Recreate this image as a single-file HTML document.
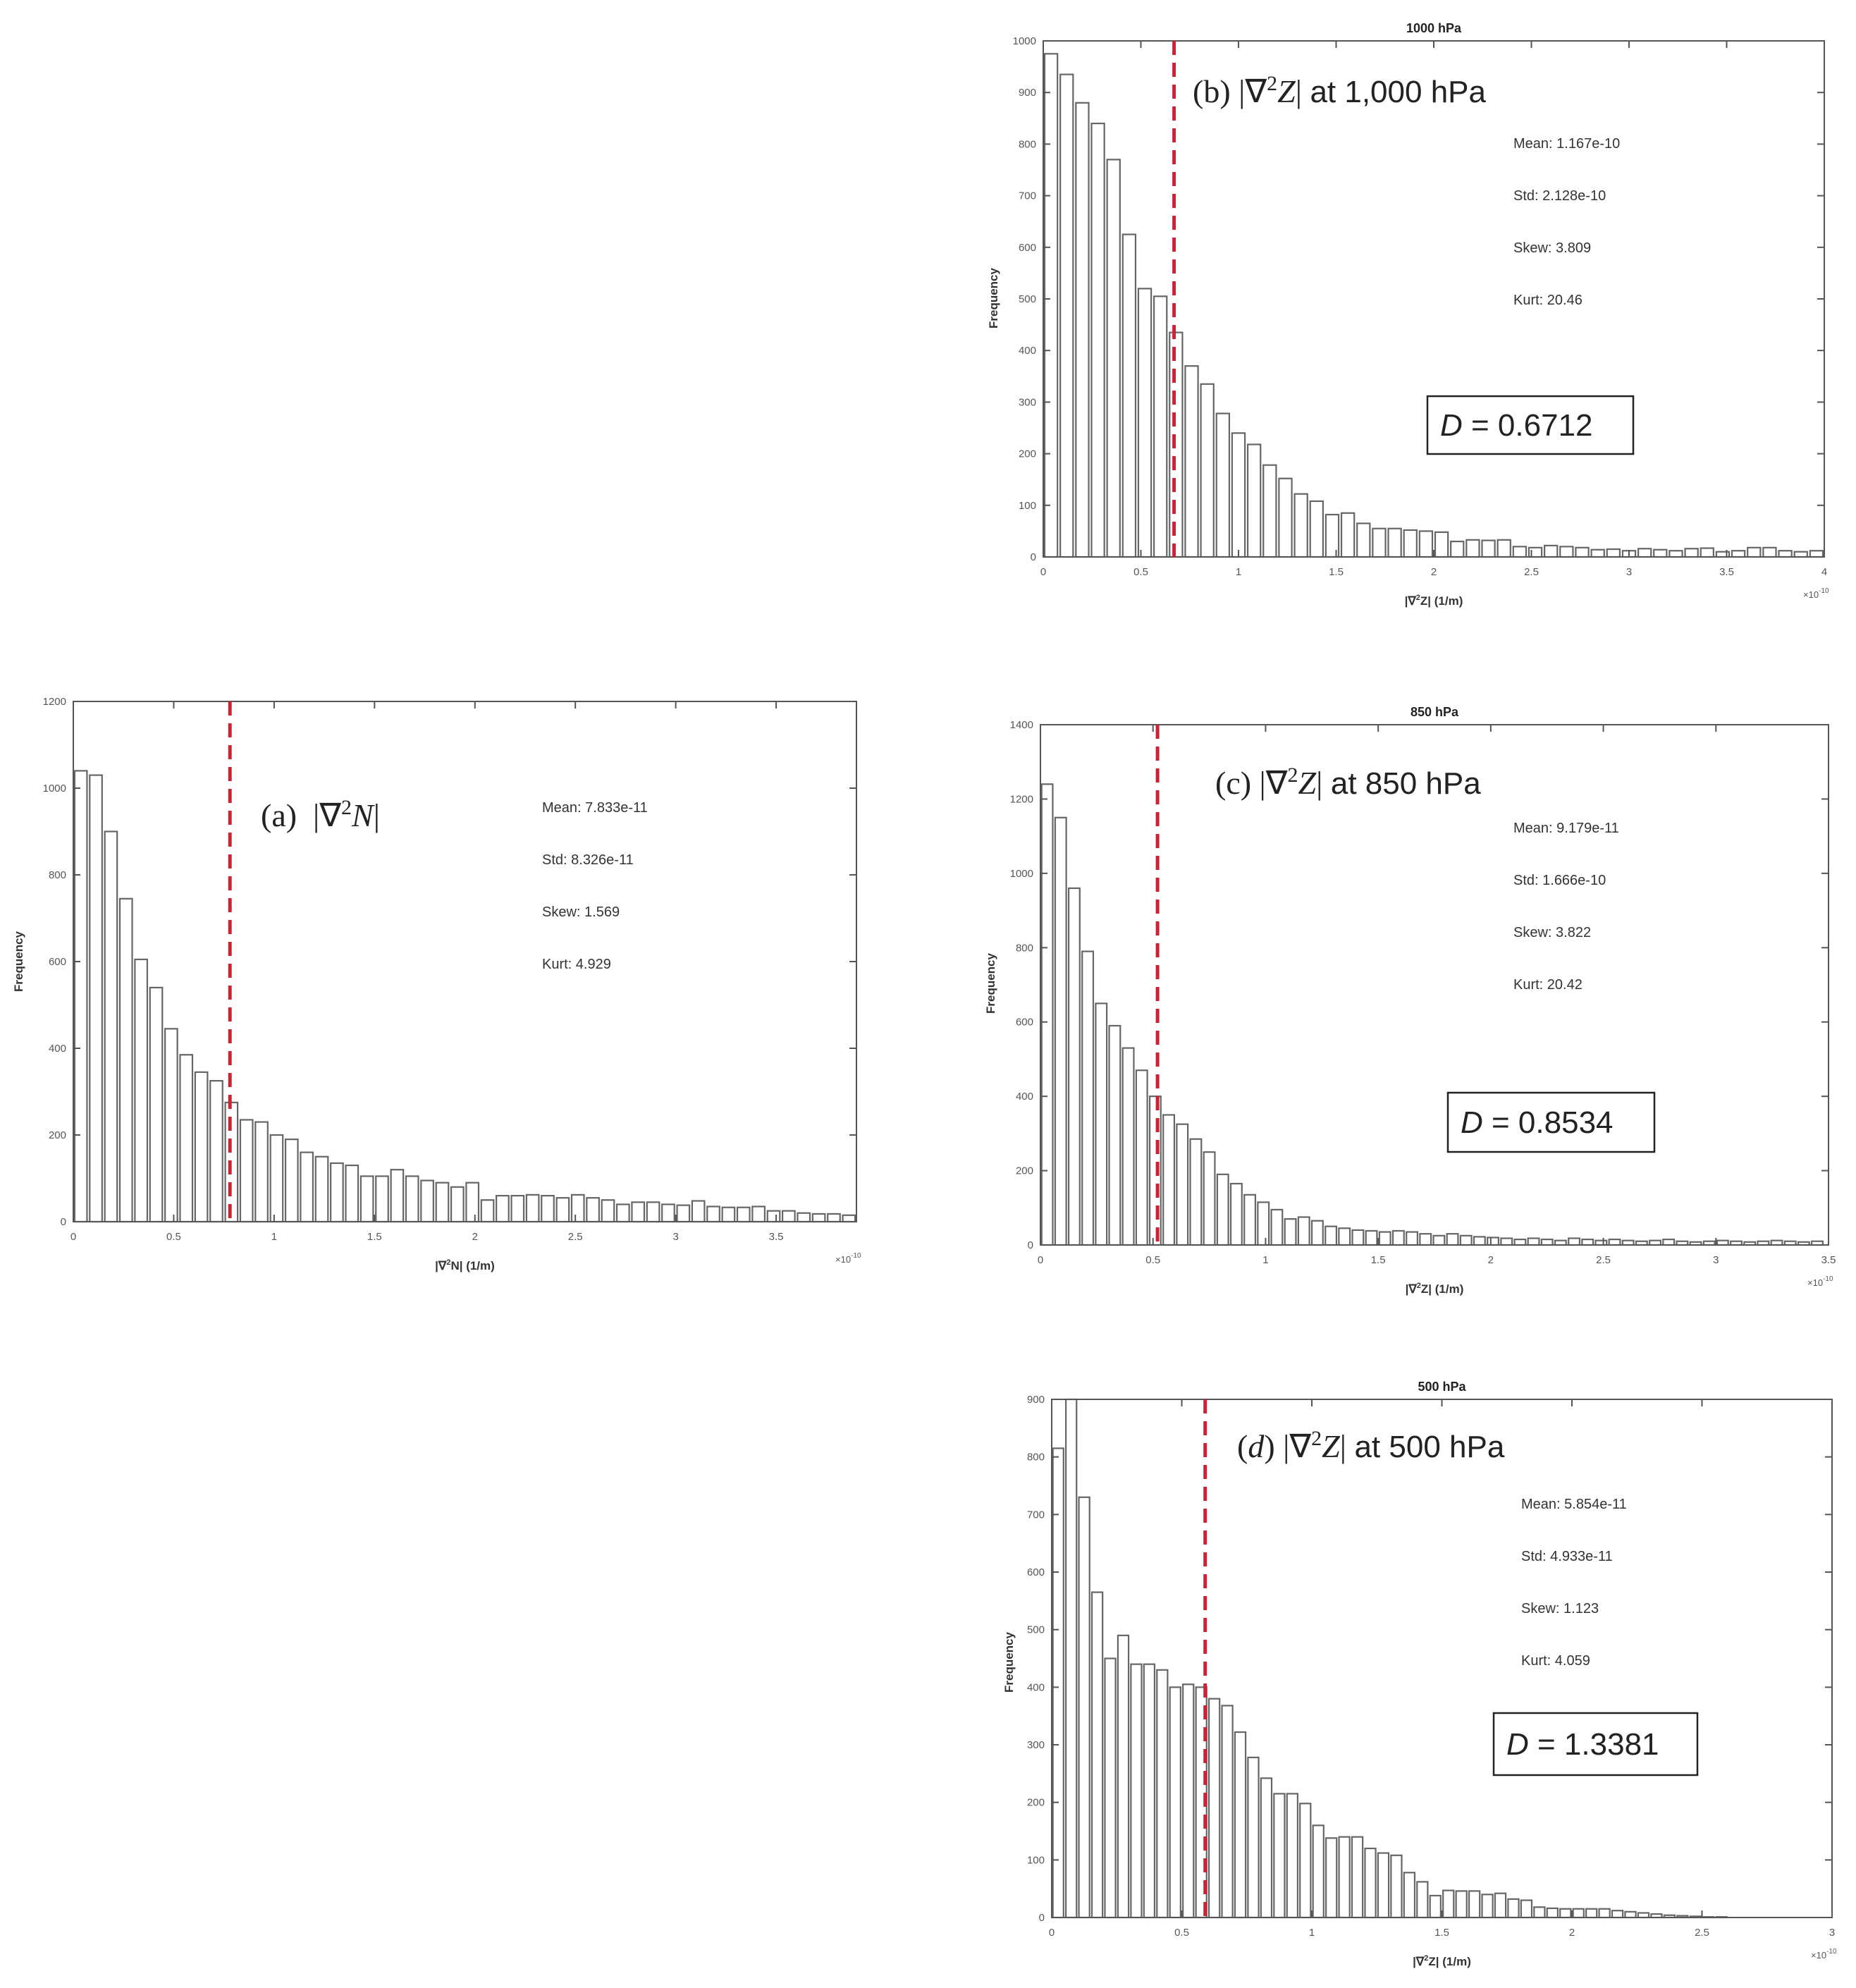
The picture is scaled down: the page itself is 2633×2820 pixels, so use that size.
<!DOCTYPE html>
<html><head><meta charset="utf-8"><style>
html,body{margin:0;padding:0;background:#fff}
svg{display:block}
</style></head><body>
<svg id="fig" width="2633" height="2820" viewBox="0 0 2633 2820" xmlns="http://www.w3.org/2000/svg" font-family="Liberation Sans, sans-serif">
<rect width="2633" height="2820" fill="#fff"/>
</svg>
<script>
// Panel (a)
const aValues=[1040,1030,900,745,605,540,445,385,345,325,275,235,230,200,190,160,150,135,130,105,105,120,105,95,90,80,90,50,60,60,62,60,55,62,55,50,40,45,45,40,38,48,35,33,33,35,25,25,20,18,18,15];
const aTicksX=[0,0.5,1,1.5,2,2.5,3,3.5];
const aTicksY=[0,200,400,600,800,1000,1200];
const aStats=["Mean: 7.833e-11","Std: 8.326e-11","Skew: 1.569","Kurt: 4.929"];
// Panel (b)
const bValues=[975,935,880,840,770,625,520,505,435,370,335,278,240,218,178,152,122,108,82,85,65,55,55,52,50,48,30,33,32,33,20,18,22,20,18,14,15,12,16,14,12,16,17,10,12,18,18,12,10,12,15,20,18,15];
const bTicksX=[0,0.5,1,1.5,2,2.5,3,3.5,4];
const bTicksY=[0,100,200,300,400,500,600,700,800,900,1000];
const bStats=["Mean: 1.167e-10","Std: 2.128e-10","Skew: 3.809","Kurt: 20.46"];
// Panel (c)
const cValues=[1240,1150,960,790,650,590,530,470,400,350,325,285,250,190,165,135,115,95,70,75,65,50,45,40,38,35,38,35,30,25,30,25,22,20,18,15,18,15,12,18,15,12,15,12,10,12,15,10,8,10,12,10,8,10,12,10,8,10];
const cTicksX=[0,0.5,1,1.5,2,2.5,3,3.5];
const cTicksY=[0,200,400,600,800,1000,1200,1400];
const cStats=["Mean: 9.179e-11","Std: 1.666e-10","Skew: 3.822","Kurt: 20.42"];
// Panel (d)
const dValues=[815,1000,730,565,450,490,440,440,430,400,405,400,380,368,322,278,242,215,215,198,160,138,140,140,120,112,108,78,62,38,47,46,46,40,42,32,30,18,16,15,15,15,15,12,10,8,6,4,3,2,1,1];
const dTicksX=[0,0.5,1,1.5,2,2.5,3];
const dTicksY=[0,100,200,300,400,500,600,700,800,900];
const dStats=["Mean: 5.854e-11","Std: 4.933e-11","Skew: 1.123","Kurt: 4.059"];

const NS="http://www.w3.org/2000/svg";
const svg=document.getElementById('fig');
function el(tag,attrs,parent,text){const e=document.createElementNS(NS,tag);for(const k in attrs)e.setAttribute(k,attrs[k]);if(text!==undefined)e.textContent=text;(parent||svg).appendChild(e);return e;}

function panel(p){
  const g=el('g',{});
  
  
  const sx=v=>p.L+(v-0)/(p.xmax)*(p.R-p.L);
  const sy=v=>p.B-Math.min(v,p.ymax)/p.ymax*(p.B-p.T);
  p.values.forEach((v,i)=>{
    const x0=sx(i*p.bin), x1=sx((i+1)*p.bin);
    if(x0>=p.R) return;
    const w=(x1-x0)*0.82;
    const r=el('rect',{x:x0+(x1-x0)*0.09,y:sy(v),width:Math.min(w,p.R-x0),height:p.B-sy(v),fill:'#fff',stroke:'#666','stroke-width':2.2},g);
    
    
  });
  const f=el('rect',{x:p.L,y:p.T,width:p.R-p.L,height:p.B-p.T,fill:'none',stroke:'#555','stroke-width':2},g);
  
  
  p.ticksX.forEach(t=>{
    const x=sx(t);
    el('line',{x1:x,x2:x,y1:p.B,y2:p.B-10,stroke:'#555','stroke-width':2},g);
    el('line',{x1:x,x2:x,y1:p.T,y2:p.T+10,stroke:'#555','stroke-width':2},g);
    const tx=el('text',{x:x,y:p.B+26,'font-size':15,fill:'#555','text-anchor':'middle'},g,String(t));
    
    
  });
  p.ticksY.forEach(t=>{
    const y=sy(t);
    el('line',{x1:p.L,x2:p.L+10,y1:y,y2:y,stroke:'#555','stroke-width':2},g);
    el('line',{x1:p.R,x2:p.R-10,y1:y,y2:y,stroke:'#555','stroke-width':2},g);
    const ty=el('text',{x:p.L-10,y:y+5,'font-size':15,fill:'#555','text-anchor':'end'},g,String(t));
    
    
  });
  const rl=el('line',{x1:sx(p.red),x2:sx(p.red),y1:p.T,y2:p.B,stroke:'#c0283a','stroke-width':5,'stroke-dasharray':'20 11'},g);
  
  
  const yl=el('text',{x:p.ylx,y:p.yly,'font-size':17,'font-weight':'bold',fill:'#333','text-anchor':'middle',transform:`rotate(-90 ${p.ylx} ${p.yly})`},g,'Frequency');
  
  
  const xl=el('text',{x:(p.L+p.R)/2,y:p.B+68,'font-size':17,'font-weight':'bold',fill:'#333','text-anchor':'middle'},g);
  
  
  xl.innerHTML=`|∇<tspan font-size="11" dy="-7">2</tspan><tspan dy="7">${p.sym}| (1/m)</tspan>`;
  const ex=el('text',{x:p.R-30,y:p.B+58,'font-size':13,fill:'#555'},g);
  
  
  ex.innerHTML=`×10<tspan font-size="10" dy="-7">${p.exp}</tspan>`;
  if(p.top){const tt=el('text',{x:(p.L+p.R)/2,y:p.T-12,'font-size':18,'font-weight':'bold',fill:'#222','text-anchor':'middle'},g,p.top);
    
    }
  const bt=el('text',{x:p.tx,y:p.ty,'font-size':46,fill:'#222','font-family':'Liberation Serif, serif'},g);
  
  
  bt.innerHTML=p.title;
  p.stats.forEach((s,i)=>{const st=el('text',{x:p.stx,y:p.sty+i*74,'font-size':20,fill:'#333'},g,s);
    
    });
  if(p.D){
    const bx=el('rect',{x:p.D[0],y:p.D[1],width:p.D[2],height:p.D[3],fill:'#fff',stroke:'#222','stroke-width':2.5},g);
    
    
    const dt=el('text',{x:p.D[0]+18,y:p.D[1]+p.D[3]/2+15,'font-size':44,fill:'#222'},g);
    
    
    dt.innerHTML=`<tspan font-style="italic">D</tspan> = ${p.D[4]}`;
  }
}

panel({id:'a',values:aValues,ticksX:aTicksX,ticksY:aTicksY,stats:aStats,L:104,R:1215,T:995,B:1733,xmax:3.9,ymax:1200,bin:0.075,red:0.78,
  ylx:32,yly:1364,sym:'N',exp:'-10',top:null,tx:370,ty:1172,
  title:'(a) &#160;|∇<tspan font-size="30" dy="-17">2</tspan><tspan dy="17" font-style="italic">N</tspan>|',stx:769,sty:1152});
panel({id:'b',values:bValues,ticksX:bTicksX,ticksY:bTicksY,stats:bStats,L:1480,R:2588,T:58,B:790,xmax:4,ymax:1000,bin:0.08,red:0.67,
  ylx:1415,yly:423,sym:'Z',exp:'-10',top:'1000 hPa',tx:1692,ty:145,
  title:'(b) |∇<tspan font-size="30" dy="-17">2</tspan><tspan dy="17" font-style="italic">Z</tspan>| <tspan font-family="Liberation Sans, sans-serif" font-size="44">at 1,000 hPa</tspan>',stx:2147,sty:210,D:[2025,562,292,82,'0.6712']});
panel({id:'c',values:cValues,ticksX:cTicksX,ticksY:cTicksY,stats:cStats,L:1476,R:2594,T:1028,B:1766,xmax:3.5,ymax:1400,bin:0.06,red:0.52,
  ylx:1411,yly:1395,sym:'Z',exp:'-10',top:'850 hPa',tx:1724,ty:1126,
  title:'(c) |∇<tspan font-size="30" dy="-17">2</tspan><tspan dy="17" font-style="italic">Z</tspan>| <tspan font-family="Liberation Sans, sans-serif" font-size="44">at 850 hPa</tspan>',stx:2147,sty:1181,D:[2054,1550,293,84,'0.8534']});
panel({id:'d',values:dValues,ticksX:dTicksX,ticksY:dTicksY,stats:dStats,L:1492,R:2599,T:1985,B:2720,xmax:3,ymax:900,bin:0.05,red:0.59,
  ylx:1437,yly:2358,sym:'Z',exp:'-10',top:'500 hPa',tx:1755,ty:2067,
  title:'(<tspan font-style="italic">d</tspan>) |∇<tspan font-size="30" dy="-17">2</tspan><tspan dy="17" font-style="italic">Z</tspan>| <tspan font-family="Liberation Sans, sans-serif" font-size="44">at 500 hPa</tspan>',stx:2158,sty:2140,D:[2119,2430,289,88,'1.3381']});
</script>
</body></html>
